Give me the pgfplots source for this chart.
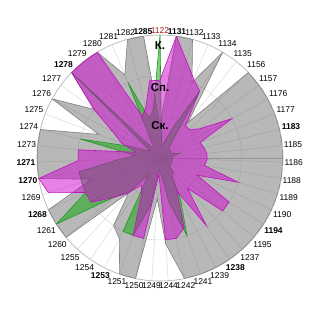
\documentclass[border=0pt]{standalone}
\usepackage{fontspec}
\setmainfont{Liberation Sans}
\usepackage{pgfplots}
\usepackage{pgfplotstable}
\pgfplotsset{compat=1.18}
\usepgfplotslibrary{polar}
\definecolor{cgray}{HTML}{717171}
\definecolor{cgrayedge}{HTML}{808080}
\definecolor{cgreen}{HTML}{08A808}
\definecolor{cgreenedge}{HTML}{1E9A1E}
\definecolor{cpurple}{HTML}{CE04CE}
\definecolor{cpurpleedge}{HTML}{C010C0}
\definecolor{cred}{HTML}{A01010}
\pgfplotstableread{
ang G Gr P
90 0.8 3 1.9
82.3404 3 0.3 3
74.6809 3 0.4 2.45
67.0213 2 0.8 2.1
59.3617 3 1.9 1.9
51.7021 1.1 0.4 1.0
44.0426 3 0.3 1.0
36.3830 3 0.3 1.2
28.7234 3 0.3 2.0
21.0638 3 0.3 1.05
13.4043 3 0.5 1.1
5.7447 3 0.3 1.15
358.0851 3 0.3 1.15
350.4255 3 0.3 1.1
342.7660 3 0.3 2.0
335.1064 3 0.3 1.0
327.4468 3 0.3 2.0
319.7872 3 0.3 2.0
312.1277 3 0.5 1.0
304.4681 3 0.5 2.0
296.8085 3 1.1 0.9
289.1489 3 2.0 1.8
281.4894 3 1.1 2.0
273.8298 2.1 0.4 2.0
266.1702 1.0 0.3 0.4
258.5106 3 1.2 2.0
250.8511 3 2.0 2.0
243.1915 2.2 2.0 1.0
235.5319 2.0 0.5 0.8
227.8723 1.15 1.1 1.15
220.2128 3 1.5 1.5
212.5532 3 3.0 2.0
204.8936 3 2.0 2.0
197.2340 1.75 2.0 2.85
189.5745 3 2.0 3.0
181.9149 3 1.0 2.0
174.2553 3 0.6 2.0
166.5957 3 2.0 0.6
158.9362 1.6 0.8 1.0
151.2766 3 0.4 1.3
143.6170 2.0 0.3 2.0
135.9574 3 3.0 3.0
128.2979 3 0.3 3.0
120.6383 3 0.3 3.0
112.9787 2.2 2.0 1.1
105.3191 3 1.0 1.3
97.6596 3 1.2 1.9
90 0.8 3 1.9
}\datatab

\begin{document}
\begin{tikzpicture}
\useasboundingbox (-160bp,-162bp) rectangle (160bp,158bp);
\begin{polaraxis}[
  at={(0,0)}, anchor=center,
  scale only axis, width=246bp, height=246bp,
  xmin=0, xmax=360, ymin=0, ymax=3,
  xtick={90,82.3404,74.6809,67.0213,59.3617,51.7021,44.0426,36.3830,28.7234,21.0638,13.4043,5.7447,358.0851,350.4255,342.7660,335.1064,327.4468,319.7872,312.1277,304.4681,296.8085,289.1489,281.4894,273.8298,266.1702,258.5106,250.8511,243.1915,235.5319,227.8723,220.2128,212.5532,204.8936,197.2340,189.5745,181.9149,174.2553,166.5957,158.9362,151.2766,143.6170,135.9574,128.2979,120.6383,112.9787,105.3191,97.6596},
  xticklabels={\textcolor{cred}{1122},\textbf{1131},1132,1133,1134,1135,1156,1157,1176,1177,\textbf{1183},1185,1186,1188,1189,1190,\textbf{1194},1195,1237,\textbf{1238},1239,1241,1242,1244,1249,1250,1251,\textbf{1253},1254,1255,1260,1261,\textbf{1268},1269,\textbf{1270},\textbf{1271},1273,1274,1275,1276,1277,\textbf{1278},1279,1280,1281,1282,\textbf{1285}},
  ytick={1,2,3}, yticklabels={},
  xmajorgrids, ymajorgrids,
  major grid style={draw=black!15, line width=0.5pt},
  tick style={draw=none},
  axis line style={draw=black!28, line width=0.6pt},
  xticklabel style={font=\fontsize{8.5}{9}\selectfont, inner sep=1.5pt},
]
\addplot[draw=cgrayedge, line width=0.6pt, fill=cgray, fill opacity=0.5] table[x=ang,y=G]{\datatab};
\addplot[draw=cgreenedge, line width=0.6pt, fill=cgreen, fill opacity=0.5] table[x=ang,y=Gr]{\datatab};
\addplot[draw=cpurpleedge, line width=0.6pt, fill=cpurple, fill opacity=0.5] table[x=ang,y=P]{\datatab};
\node[font=\bfseries\fontsize{11.5}{12}\selectfont] at (axis cs:90,0.78) {Ск.};
\node[font=\bfseries\fontsize{11.5}{12}\selectfont] at (axis cs:90,1.72) {Сп.};
\node[font=\bfseries\fontsize{11.5}{12}\selectfont] at (axis cs:90,2.75) {К.};
\end{polaraxis}
\end{tikzpicture}
\end{document}
